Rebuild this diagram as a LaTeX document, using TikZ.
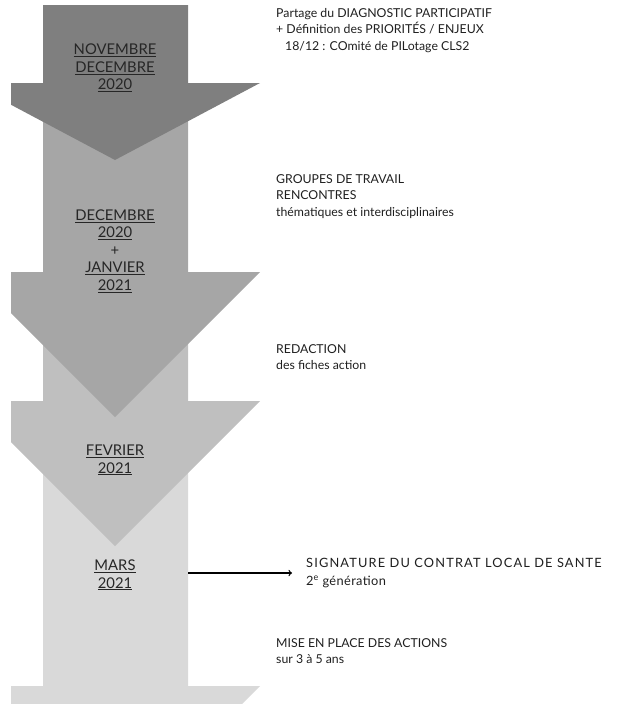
\documentclass[tikz,border=0pt]{standalone}
\usepackage{fontspec}
\setmainfont{Lato}
\definecolor{grisA}{HTML}{7F7F7F}
\definecolor{grisB}{HTML}{A6A6A6}
\definecolor{grisC}{HTML}{BFBFBF}
\definecolor{grisD}{HTML}{D9D9D9}
\begin{document}
\begin{tikzpicture}[x=1pt, y=-1pt, date/.style={align=center, text=black!85, font=\fontsize{14.8}{17.5}\selectfont}, etape/.style={align=left, anchor=north west, inner sep=0pt, text=black!88, font=\fontsize{12.3}{16.5}\selectfont}]
			\useasboundingbox (0,0) rectangle (640,704);
			\begin{scope}
			\clip (11,0) rectangle (640,704);
			\fill[grisD] (43,401) -- (188,401) -- (188,686) -- (260,686) -- (115,831) -- (-30,686) -- (43,686) -- cycle;
			\fill[grisC] (43,272) -- (188,272) -- (188,401) -- (260,401) -- (115,546) -- (-30,401) -- (43,401) -- cycle;
			\fill[grisB] (43,83) -- (188,83) -- (188,272) -- (260,272) -- (115,417) -- (-30,272) -- (43,272) -- cycle;
			\fill[grisA] (43,5) -- (188,5) -- (188,83) -- (260,83) -- (115,160) -- (-30,83) -- (43,83) -- cycle;
			\end{scope}
			\node[date] (nov) at (115,68) {\underline{NOVEMBRE}\\\underline{DECEMBRE}\\\underline{2020}};
			\node[date] (decjan) at (115,251) {\underline{DECEMBRE}\\\underline{2020}\\+\\\underline{JANVIER}\\\underline{2021}};
			\node[date] (fev) at (115,460) {\underline{FEVRIER}\\\underline{2021}};
			\node[date] (mars) at (115,575) {\underline{MARS}\\\underline{2021}};
			\node[etape] (partage) at (276,8) {Partage du DIAGNOSTIC PARTICIPATIF\\+ Définition des PRIORITÉS / ENJEUX\\\hspace*{9pt}18/12 : COmité de PILotage CLS2};
			\node[etape] (groupes) at (276,174) {GROUPES DE TRAVAIL\\RENCONTRES\\thématiques et interdisciplinaires};
			\node[etape] (redaction) at (276,344) {REDACTION\\des fiches action};
			\node[etape, anchor=west, font=\fontsize{12.8}{17.5}\selectfont] (signature) at (306,573) {\addfontfeature{LetterSpace=9}SIGNATURE DU CONTRAT LOCAL DE SANTE\\\addfontfeature{LetterSpace=3}2\textsuperscript{e} génération};
			\node[etape] (miseenplace) at (276,638) {MISE EN PLACE DES ACTIONS\\sur 3 à 5 ans};
			\coordinate (bord) at (188,573);
			\draw[->, line width=1.3pt, shorten >=14pt] (bord) -- (signature.west |- bord);
\end{tikzpicture}
\end{document}
